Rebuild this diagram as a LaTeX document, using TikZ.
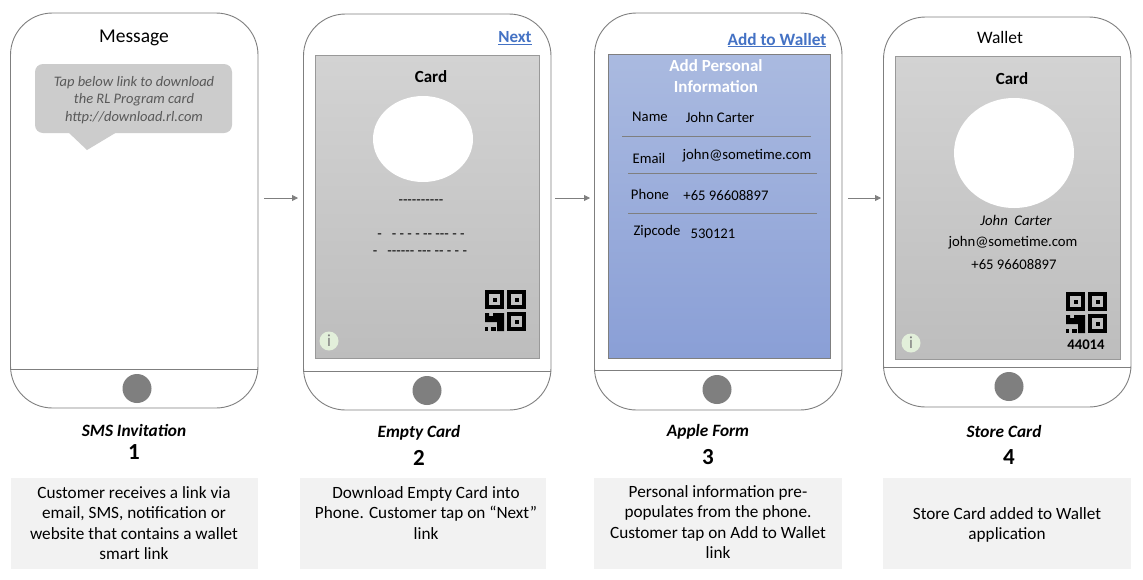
\documentclass[tikz,border=0pt]{standalone}
\usepackage{fontspec}
\setmainfont{Carlito}
\newfontfamily\dashfont{Carlito}
\usetikzlibrary{arrows.meta}
\definecolor{framegray}{HTML}{7F7F7F}
\definecolor{linkblue}{HTML}{4472C4}
\definecolor{formtop}{HTML}{AABAE0}
\definecolor{formbottom}{HTML}{8A9FD6}
\definecolor{cardtop}{HTML}{D3D3D3}
\definecolor{cardbottom}{HTML}{BDBDBD}
\definecolor{infogreen}{HTML}{E2EFDA}
\tikzset{
	phonebody/.style={draw=framegray,fill=white,rounded corners=42pt,line width=0.9pt},
	screengray/.style={draw=framegray!80,line width=0.8pt,top color=cardtop,bottom color=cardbottom},
	screenblue/.style={draw=framegray,line width=0.8pt,top color=formtop,bottom color=formbottom},
	flow/.style={draw=framegray,line width=0.8pt,-{Triangle[length=6pt,width=6pt]}},
	rowline/.style={draw=framegray,line width=0.8pt},
	body/.style={font=\fontsize{17.2}{20.5}\selectfont,align=center,inner sep=0pt},
	small/.style={font=\fontsize{14.7}{17.5}\selectfont,align=center,inner sep=0pt},
	head/.style={font=\fontsize{17}{20}\selectfont\bfseries,align=center,inner sep=0pt},
	caption/.style={font=\fontsize{17.3}{20}\selectfont\bfseries\itshape,inner sep=0pt},
	stepnum/.style={font=\fontsize{23}{26}\selectfont\bfseries,inner sep=0pt}
}
\newcommand{\phonecase}[6]{
	\draw[phonebody] (#1,#2) rectangle (#3,#4);
	\draw[framegray,line width=0.9pt] (#1,#5)--(#3,#5);
	\fill[framegray] (#6,{#5+19.5}) circle[radius=14.5pt];
}
\newcommand{\qrmark}[2]{
	\begin{scope}[shift={(#1,#2)}]
		\foreach \qx/\qy in {0/0,22/0,22/22}{
			\draw[line width=4pt] (\qx+2,\qy+2) rectangle (\qx+17,\qy+17);
			\fill (\qx+7.5,\qy+7.5) rectangle (\qx+11.5,\qy+11.5);
		}
		\fill (0,23)--(4,23)--(4,26)--(8,26)--(8,23)--(19,23)--(19,41)--(12,41)--(12,32)--(0,32)--cycle;
		\fill (0,37) rectangle (3,41);\fill (6,37) rectangle (11,41);
	\end{scope}
}
\newcommand{\infomark}[3]{
	\node[circle,fill=infogreen,minimum size=19pt,inner sep=0pt,text=framegray,font=\fontsize{17}{17}\selectfont] (#1) at (#2,#3) {i};
}
\begin{document}
\begin{tikzpicture}[x=1pt,y=-1pt]
	\useasboundingbox (0,0) rectangle (1143,579);
	\phonecase{10.5}{13}{258}{408}{369}{137}
	\phonecase{303.5}{14}{551}{410}{371}{427}
	\phonecase{594.5}{13}{842}{410}{370}{717}
	\phonecase{883.5}{17}{1131}{407}{367}{1009}

	\node[font=\fontsize{19.5}{22}\selectfont,inner sep=0pt] (msgtitle) at (134,38) {Message};
	\fill[black!20,rounded corners=8pt] (35,64) rectangle (232,133);
	\fill[black!20] (68,132)--(87,150)--(117,132)--cycle;
	\node[small,text=black!65,font=\fontsize{14.5}{17.5}\selectfont\itshape] (bubble) at (134,100) {Tap below link to download\\the RL Program card\\http://download.rl.com};

	\node[head,text=linkblue] (nextlink) at (515,38) {\underline{Next}};
	\draw[screengray] (315.5,55) rectangle (539,358);
	\node[head] (cardA) at (431,77) {Card};
	\fill[white] (423,139) ellipse[x radius=50,y radius=43];
	\node[small,font=\fontsize{14.7}{14}\selectfont\dashfont] (dashA) at (421,202) {----------};
	\node[small,font=\fontsize{14.7}{14}\selectfont\dashfont] (dashB) at (421,236) {-\ \ \ - - - - -- --- - -};
	\node[small,font=\fontsize{14.7}{14}\selectfont\dashfont] (dashC) at (420,253) {-\ \ \ ------ --- -- - - -};
	\qrmark{485}{290}
	\infomark{infoA}{329}{341}

	\node[head,text=linkblue,font=\fontsize{17.3}{20}\selectfont\bfseries] (walletlink) at (777,40) {\underline{Add to Wallet}};
	\draw[screenblue] (608,54) rectangle (830,358);
	\node[head,text=white,font=\fontsize{17}{21}\selectfont\bfseries] (formtitle) at (716,76) {Add Personal\\Information};
	\node[small] (nameL) at (650,117) {Name};\node[small] (nameV) at (720,117) {John Carter};
	\draw[rowline] (622,136)--(811,136);
	\node[small] (emailL) at (649,158) {Email};\node[small] (emailV) at (747,156) {john@sometime.com};
	\draw[rowline] (628,173)--(817,173);
	\node[small] (phoneL) at (650,194) {Phone};\node[small] (phoneV) at (726,196) {+65 96608897};
	\draw[rowline] (628,213)--(817,213);
	\node[small] (zipL) at (657,232) {Zipcode};\node[small] (zipV) at (713,234) {530121};

	\node[font=\fontsize{17.5}{20}\selectfont,inner sep=0pt] (wallettitle) at (1000,37) {Wallet};
	\draw[screengray] (895.5,56) rectangle (1120,359);
	\node[head] (cardB) at (1012,79) {Card};
	\fill[white] (1014,153) ellipse[x radius=60,y radius=55];
	\node[small,font=\fontsize{14.7}{17}\selectfont\itshape] (holder) at (1016,220) {John\ \ Carter};
	\node[small] (holdermail) at (1013,243) {john@sometime.com};
	\node[small] (holderphone) at (1014,265) {+65 96608897};
	\qrmark{1066}{292}
	\node[small,font=\fontsize{14.7}{17}\selectfont\bfseries] (cardno) at (1086,345) {44014};
	\infomark{infoB}{911}{343}

	\coordinate (flowAs) at (264,198);\coordinate (flowAe) at (298,198);
	\coordinate (flowBs) at (555,198);\coordinate (flowBe) at (590,198);
	\coordinate (flowCs) at (848,198);\coordinate (flowCe) at (881,198);
	\draw[flow] (flowAs)--(flowAe);
	\draw[flow] (flowBs)--(flowBe);
	\draw[flow] (flowCs)--(flowCe);

	\node[caption] (capA) at (134,430) {SMS Invitation};\node[stepnum] (numA) at (134,452) {1};
	\node[caption] (capB) at (419,433) {Empty Card};\node[stepnum] (numB) at (419,458) {2};
	\node[caption] (capC) at (708,432) {Apple Form};\node[stepnum] (numC) at (708,457) {3};
	\node[caption] (capD) at (1004,431) {Store Card};\node[stepnum] (numD) at (1009,457) {4};

	\fill[black!5] (11,478) rectangle (258,569);
	\fill[black!5] (300,478) rectangle (546,569);
	\fill[black!5] (594,478) rectangle (842,569);
	\fill[black!5] (883,478) rectangle (1131,569);
	\node[body] (noteA) at (134,523) {Customer receives a link via\\email, SMS, notification or\\website that contains a wallet\\smart link};
	\node[body] (noteB) at (426,513) {Download Empty Card into\\Phone. Customer tap on “Next”\\link};
	\node[body] (noteC) at (718,522) {Personal information pre-\\populates from the phone.\\Customer tap on Add to Wallet\\link};
	\node[body] (noteD) at (1007,525) {Store Card added to Wallet\\application};
\end{tikzpicture}
\end{document}
